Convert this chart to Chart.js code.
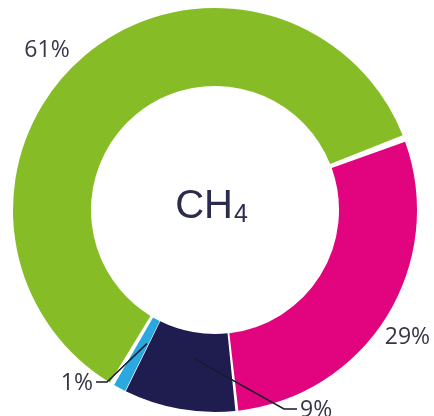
<!DOCTYPE html>
<html lang="en">
<head>
    <meta charset="UTF-8">
    <title>CH4</title>
    <script src="https://cdn.jsdelivr.net/npm/chart.js@4.4.0/dist/chart.umd.min.js"></script>
    <style>
        html, body {
            margin: 0;
            padding: 0;
            background: #ffffff;
        }
        .chart-container {
            position: relative;
            width: 434px;
            height: 416px;
        }
    </style>
</head>
<body>
    <div class="chart-container">
        <canvas id="ch4Chart"></canvas>
    </div>

    <script>
        // Share of CH4 by source, in percent
        const categories = ['A', 'B', 'C', 'D'];
        const shares = [61, 29, 9, 1];
        const colors = ['#86bc25', '#e2047f', '#1f1c50', '#2aa8e0'];
        const labels = ['61%', '29%', '9%', '1%'];

        // Where each percentage label sits relative to its slice
        const labelStyle = [
            { angle: 313.6, radius: 232, align: 'center', leader: false },
            { angle: 123.6, radius: 231, align: 'center', leader: false },
            { angle: 188, radius: 130, tx: 300, ty: 409, align: 'left', leader: true },
            { angle: 207, radius: 130, tx: 93, ty: 382, align: 'right', leader: true }
        ];

        const textColor = '#363646';

        // Percentage labels and leader lines
        const sliceLabels = {
            id: 'sliceLabels',
            afterDatasetsDraw(chart) {
                const ctx = chart.ctx;
                const arcs = chart.getDatasetMeta(0).data;
                ctx.save();
                ctx.font = '23px "Open Sans", sans-serif';
                ctx.fillStyle = textColor;
                ctx.strokeStyle = '#1a1a2a';
                ctx.lineWidth = 1.5;
                ctx.textBaseline = 'middle';
                arcs.forEach((arc, i) => {
                    const s = labelStyle[i];
                    const cx = arc.x, cy = arc.y;
                    const a = (s.angle - 90) * Math.PI / 180;
                    if (!s.leader) {
                        const x = cx + Math.cos(a) * s.radius;
                        const y = cy + Math.sin(a) * s.radius;
                        ctx.textAlign = s.align;
                        ctx.fillText(labels[i], x, y);
                        return;
                    }
                    // leader from inside the slice out to the label
                    const px = cx + Math.cos(a) * (arc.innerRadius + 28);
                    const py = cy + Math.sin(a) * (arc.innerRadius + 28);
                    const elbow = s.align === 'left' ? s.tx - 16 : s.tx + 14;
                    ctx.beginPath();
                    ctx.moveTo(px, py);
                    ctx.lineTo(elbow, s.ty);
                    ctx.lineTo(s.align === 'left' ? s.tx - 3 : s.tx + 3, s.ty);
                    ctx.stroke();
                    ctx.textAlign = s.align;
                    ctx.fillText(labels[i], s.tx, s.ty + 1);
                });
                ctx.restore();
            }
        };

        // Formula in the hole: CH with subscript 4
        const centerText = {
            id: 'centerText',
            afterDraw(chart) {
                const ctx = chart.ctx;
                const arc = chart.getDatasetMeta(0).data[0];
                const bigFont = '40px "Liberation Sans", Arial, sans-serif';
                const smallFont = '25px "Liberation Sans", Arial, sans-serif';
                ctx.save();
                ctx.fillStyle = '#2b2b4e';
                ctx.textBaseline = 'alphabetic';
                ctx.textAlign = 'left';
                ctx.font = bigFont;
                const w1 = ctx.measureText('CH').width;
                ctx.font = smallFont;
                const w2 = ctx.measureText('4').width;
                const startX = arc.x - 4 - (w1 + w2) / 2;
                const baseY = arc.y + 8;
                ctx.font = bigFont;
                ctx.fillText('CH', startX, baseY);
                ctx.font = smallFont;
                ctx.fillText('4', startX + w1 + 1, baseY + 4);
                ctx.restore();
            }
        };

        new Chart(document.getElementById('ch4Chart'), {
            type: 'doughnut',
            data: {
                labels: categories,
                datasets: [{
                    data: shares,
                    backgroundColor: colors,
                    borderWidth: 0,
                    spacing: 4
                }]
            },
            options: {
                responsive: true,
                maintainAspectRatio: false,
                animation: false,
                cutout: '61%',
                rotation: 210,
                layout: {
                    padding: { top: 8, bottom: 4, left: 13, right: 17 }
                },
                plugins: {
                    legend: { display: false },
                    tooltip: { enabled: false }
                }
            },
            plugins: [sliceLabels, centerText]
        });
    </script>
</body>
</html>
